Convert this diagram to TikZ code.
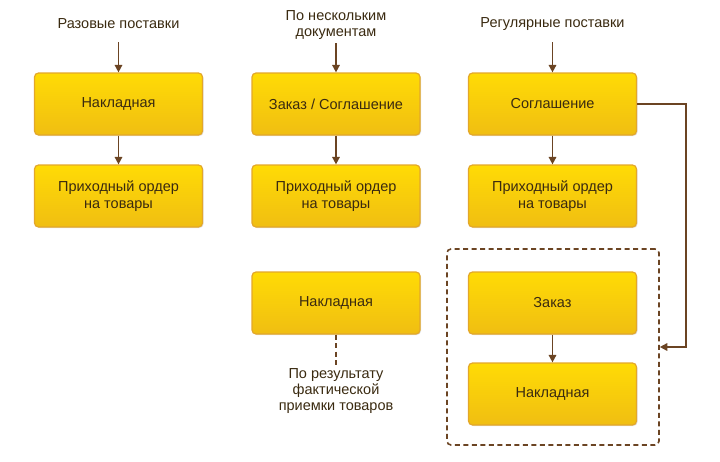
\documentclass[tikz,border=0pt]{standalone}
\usepackage{fontspec}
\setmainfont{Liberation Sans}
\usetikzlibrary{arrows.meta,shadows}
\definecolor{arr}{HTML}{6B4423}
\definecolor{bord}{HTML}{E3A72A}
\definecolor{ytop}{HTML}{FFDB05}
\definecolor{ybot}{HTML}{F0BE12}
\definecolor{txt}{HTML}{3A2A10}
\begin{document}
\begin{tikzpicture}[x=1pt,y=-1pt,
  yb/.style={draw=bord,line width=1.2pt,rounded corners=4pt,top color=ytop,bottom color=ybot,
    minimum width=168pt,minimum height=62pt,align=center,font=\fontsize{14.5}{17}\selectfont,text=txt,
    drop shadow={shadow xshift=1pt,shadow yshift=-1pt,opacity=0.25}},
  lbl/.style={align=center,font=\fontsize{14.5}{16}\selectfont,text=txt},
  ar/.style={draw=arr,line width=1.6pt,-{Triangle[length=7.5pt,width=7.5pt]}},
  dsh/.style={draw=arr,line width=1.6pt,dash pattern=on 5pt off 3.5pt}]
\useasboundingbox (0,0) rectangle (720,461);
% column 1
\node[lbl] (t1) at (118.5,24) {Разовые поставки};
\node[yb] (a1) at (118.5,104) {Накладная};
\node[yb] (a2) at (118.5,196) {Приходный ордер\\на товары};
\coordinate (s1) at (118.5,42);
\draw[ar] (s1) -- (a1.north);
\draw[ar] (a1.south) -- (a2.north);
% column 2
\node[lbl] (t2) at (336,25) {По нескольким\\документам};
\node[yb] (b1) at (336,104) {Заказ / Соглашение};
\node[yb] (b2) at (336,196) {Приходный ордер\\на товары};
\node[yb] (b3) at (336,303) {Накладная};
\coordinate (s2) at (336,43);
\draw[ar] (s2) -- (b1.north);
\draw[ar] (b1.south) -- (b2.north);
\node[lbl] (t4) at (336,391) {По результату\\фактической\\приемки товаров};
\draw[dsh] (b3.south) -- (t4.north);
% column 3
\node[lbl] (t3) at (552.5,24) {Регулярные поставки};
\node[yb] (c1) at (552.5,104) {Соглашение};
\node[yb] (c2) at (552.5,196) {Приходный ордер\\на товары};
\node[yb] (c3) at (552.5,303) {Заказ};
\node[yb] (c4) at (552.5,394) {Накладная};
\coordinate (s3) at (552.5,42);
\draw[ar] (s3) -- (c1.north);
\draw[ar] (c1.south) -- (c2.north);
\draw[ar] (c3.south) -- (c4.north);
\node[draw=arr,line width=1.6pt,dash pattern=on 5pt off 3.5pt,rounded corners=4pt,
  minimum width=212pt,minimum height=196pt] (grp) at (553,347) {};
\draw[ar] (c1.east) -- (686,104) |- (grp.east);
\end{tikzpicture}
\end{document}
